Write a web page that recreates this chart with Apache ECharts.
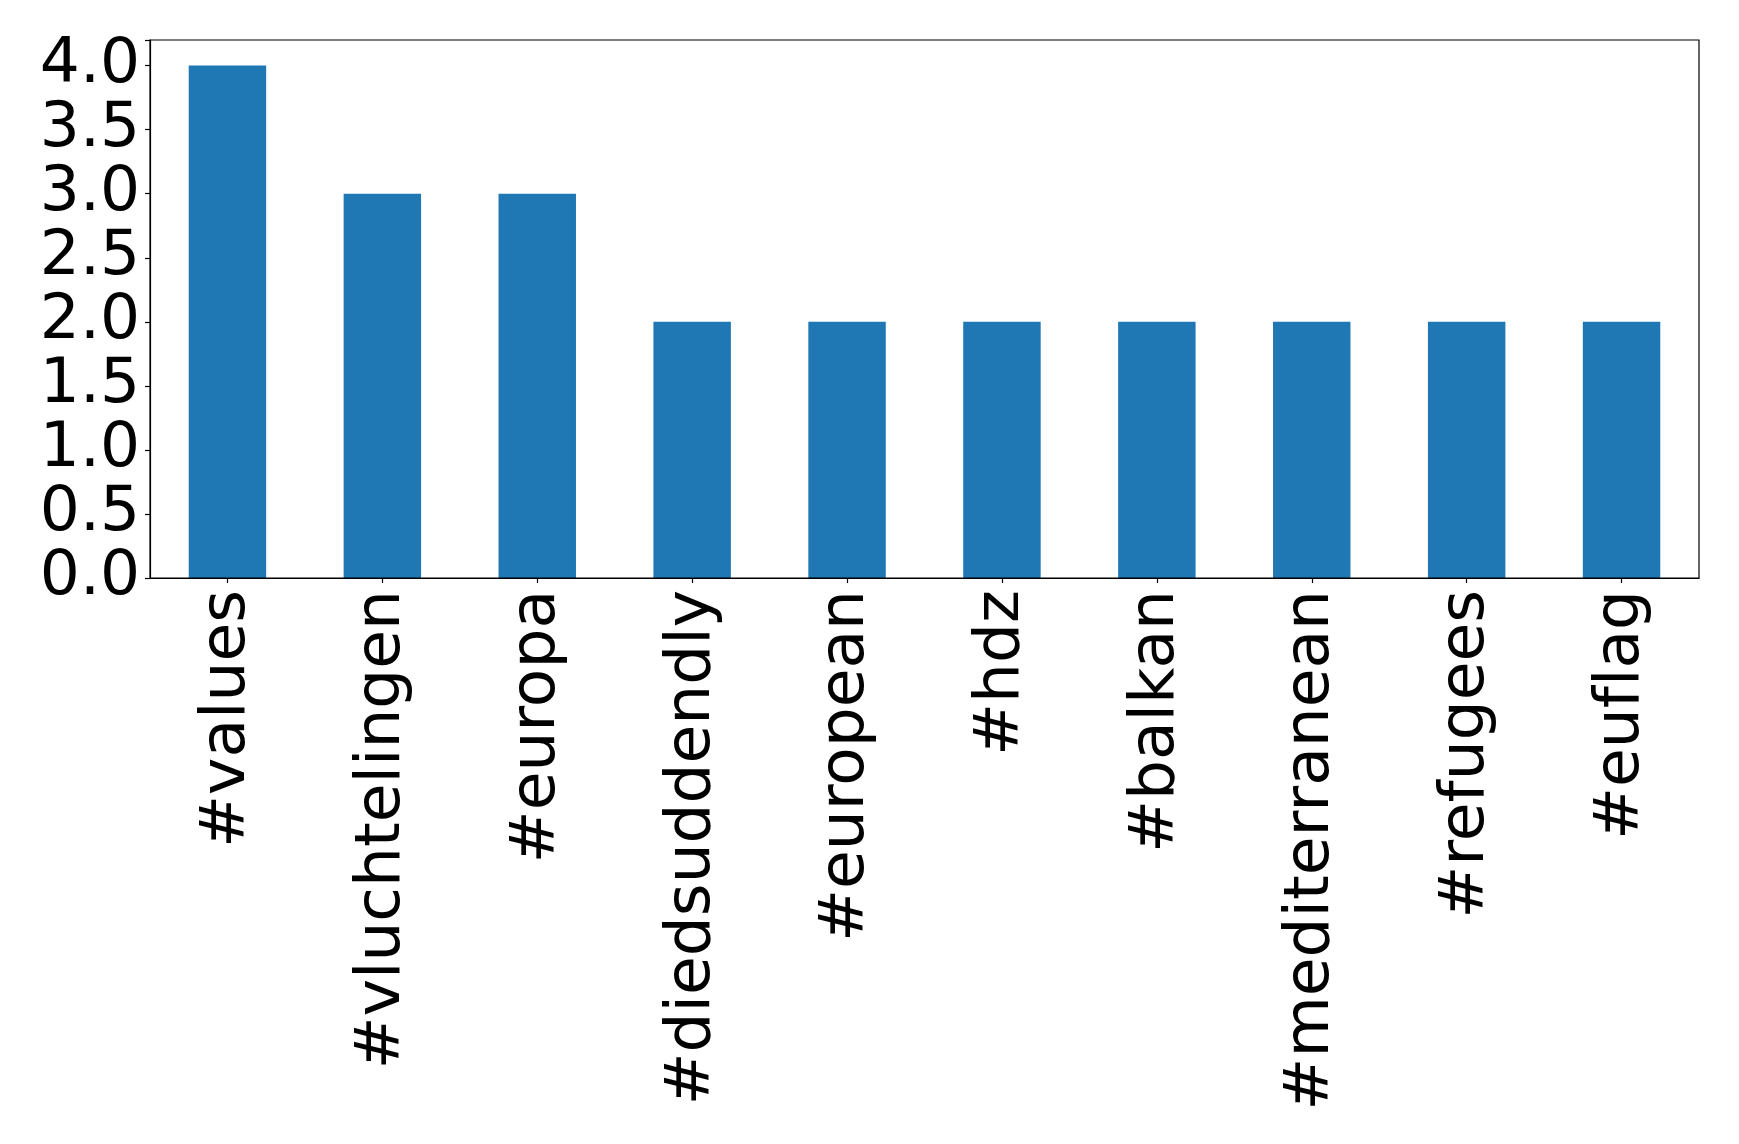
<!DOCTYPE html>
<html><head><meta charset="utf-8">
<script src="https://cdn.jsdelivr.net/npm/echarts@6/dist/echarts.min.js"></script>
<style>html,body{margin:0;padding:0;background:#fff}#c{width:1739px;height:1144px}</style>
</head><body><div id="c"></div>
<script>
const categories = ['#values','#vluchtelingen','#europa','#diedsuddendly','#european','#hdz','#balkan','#mediterranean','#refugees','#euflag'];
const counts = [4,3,3,2,2,2,2,2,2,2];
const yTicks = [0,0.5,1,1.5,2,2.5,3,3.5,4];

const chart = echarts.init(document.getElementById('c'));
chart.setOption({
  animation:false,
  grid:{left:150,right:40,top:40,bottom:566,containLabel:false},
  xAxis:{type:'category',data:categories,
    axisLine:{show:true,lineStyle:{color:'#000',width:1.2}},
    axisTick:{show:true,alignWithLabel:true,length:5,lineStyle:{color:'#000',width:1.2}},
    axisLabel:{rotate:90,interval:0,margin:12,fontFamily:'DejaVu Sans',fontSize:63,color:'#000',
      formatter:v=>v.replace(/f(?=[il])/g,'f\u200C')},
    splitLine:{show:false}
  },
  yAxis:{type:'value',min:0,max:4.2,interval:0.5,
    axisLine:{show:true,lineStyle:{color:'#000',width:1.2}},
    axisTick:{show:true,length:5,lineStyle:{color:'#000',width:1.2}},
    axisLabel:{fontFamily:'DejaVu Sans',fontSize:63,color:'#000',margin:10,
      formatter:v=>yTicks.some(t=>Math.abs(t-v)<1e-9)?v.toFixed(1):''},
    splitLine:{show:false}
  },
  graphic:[{type:'rect',shape:{x:150,y:40,width:1549,height:538},style:{fill:'none',stroke:'#000',lineWidth:1.2},z:10,silent:true}],
  series:[{type:'bar',data:counts,barWidth:'50%',itemStyle:{color:'#1f77b4'}}]
});
</script></body></html>
